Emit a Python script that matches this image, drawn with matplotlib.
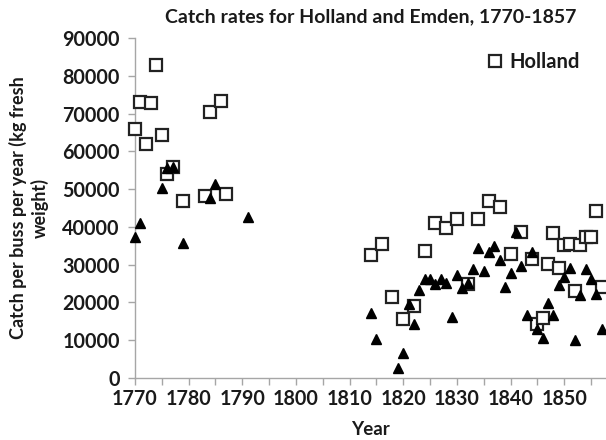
import matplotlib
matplotlib.use("Agg")
import matplotlib.pyplot as plt
from matplotlib.lines import Line2D

# Holland catch per buss (squares)
holland_years = [1770, 1771, 1772, 1773, 1774, 1775, 1776, 1777, 1779, 1783, 1784, 1786, 1787,
                 1814, 1816, 1818, 1820, 1822, 1824, 1826, 1828, 1830, 1832, 1834, 1836, 1838,
                 1840, 1842, 1844, 1845, 1846, 1847, 1848, 1849, 1850, 1851, 1852, 1853, 1854,
                 1855, 1856, 1857]
holland_catch = [65800, 73000, 61900, 72700, 82900, 64400, 54000, 55900, 46800, 48300, 70500, 73300, 48800,
                 32600, 35400, 21400, 15500, 19100, 33500, 41000, 39700, 42100, 24800, 42100, 46900, 45200,
                 32700, 38700, 31400, 14300, 15800, 30100, 38300, 29100, 35300, 35600, 23000, 35100, 37400,
                 37200, 44100, 24200]

# Emden catch per buss (triangles)
emden_years = [1770, 1771, 1775, 1776, 1777, 1779, 1784, 1785, 1791,
               1814, 1815, 1819, 1820, 1821, 1822, 1823, 1824, 1825, 1826, 1827, 1828, 1829,
               1830, 1831, 1832, 1833, 1834, 1835, 1836, 1837, 1838, 1839, 1840, 1841, 1842,
               1843, 1844, 1845, 1846, 1847, 1848, 1849, 1850, 1851, 1852, 1853, 1854, 1855,
               1856, 1857]
emden_catch = [37400, 40900, 50200, 55500, 55800, 35800, 47700, 51300, 42700,
               17100, 10400, 2700, 6700, 19600, 14300, 23300, 26300, 26300, 24900, 26100, 25100, 16100,
               27200, 23800, 25100, 28800, 34300, 28200, 33300, 34900, 31200, 24100, 27900, 38600, 29700,
               16600, 33400, 12900, 10500, 19900, 16600, 24700, 26700, 29100, 10100, 22100, 28900, 26300,
               22200, 13100]

x_ticks = list(range(1770, 1860, 5))
x_labels = [str(y) if y % 10 == 0 else "" for y in x_ticks]
y_ticks = list(range(0, 90001, 10000))

plt.rcParams['font.family'] = ['Lato', 'DejaVu Sans']
plt.rcParams['font.weight'] = 'bold'

fig = plt.figure(figsize=(6.06, 4.40), dpi=100)
ax = fig.add_axes([135 / 606, 1 - 378 / 440, 1 - 135 / 606, (378 - 38) / 440])

ax.plot(holland_years, holland_catch, 's', ms=8, mfc='white', mec='#222222', mew=1.6,
        clip_on=False, zorder=3)
ax.plot(emden_years, emden_catch, '^', ms=7.5, color='black', clip_on=False, zorder=4)

ax.set_xlim(1770, 1857.8)
ax.set_ylim(0, 90000)
ax.set_xticks(x_ticks)
ax.set_xticklabels(x_labels)
ax.set_yticks(y_ticks)

for s in ['top', 'right']:
    ax.spines[s].set_visible(False)
for s in ['left', 'bottom']:
    ax.spines[s].set_color('#a6a6a6')
    ax.spines[s].set_linewidth(1.0)
ax.tick_params(direction='out', length=5, width=1.0, color='#a6a6a6',
               labelsize=14.2, labelcolor='#1a1a1a')
ax.tick_params(axis='y', pad=6)
ax.tick_params(axis='x', pad=3)

ax.set_title("Catch rates for Holland and Emden, 1770-1857", fontsize=14, fontweight='bold',
             color='#1a1a1a', pad=11)
ax.set_xlabel("Year", fontsize=13.5, fontweight='bold', color='#1a1a1a')
ax.xaxis.set_label_coords(0.5, -0.125)
ax.set_ylabel("Catch per buss per year (kg fresh\nweight)", fontsize=13, fontweight='bold',
              color='#1a1a1a', linespacing=1.3)
ax.yaxis.set_label_coords(-0.182, 0.5)

handle = Line2D([], [], marker='s', ls='none', ms=8, mfc='white', mec='#222222', mew=1.6)
fig.legend(handles=[handle], labels=['Holland'], loc='center left',
           bbox_to_anchor=(465 / 606, 1 - 62 / 440), frameon=False,
           handletextpad=0.1, handlelength=1.2, prop={'size': 14.5, 'weight': 'bold'},
           labelcolor='#1a1a1a')

fig.savefig('out.png', dpi=100)
